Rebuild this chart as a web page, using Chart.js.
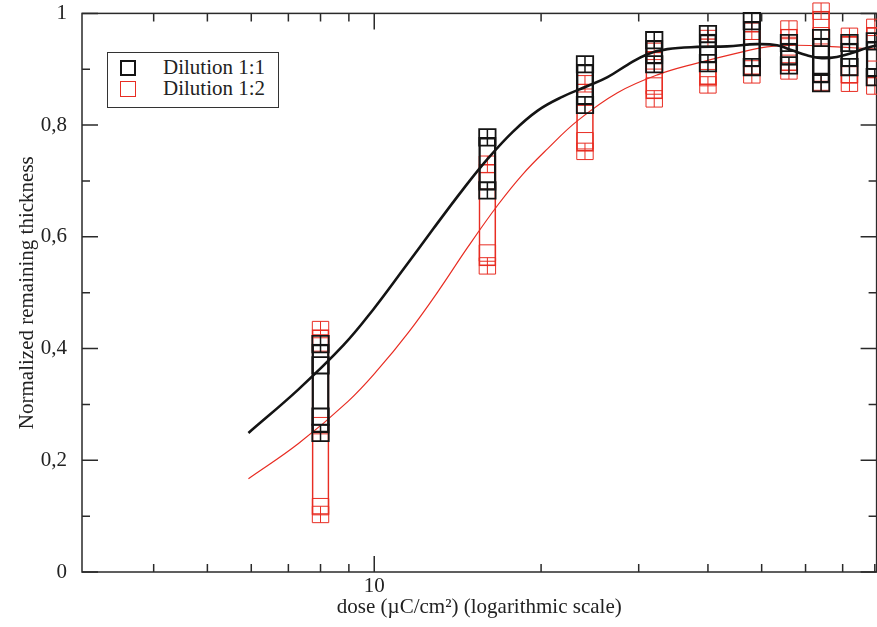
<!DOCTYPE html>
<html><head><meta charset="utf-8">
<script src="https://cdn.jsdelivr.net/npm/chart.js@4/dist/chart.umd.min.js"></script>
<style>
html,body{margin:0;padding:0;background:#fff;overflow:hidden;width:877px;height:627px;}
#wrap{position:relative;width:890px;height:627px;}
#legend{position:absolute;left:107px;top:52px;width:172px;height:56px;border:1.5px solid #333;box-sizing:border-box;background:#fff;font-family:'Liberation Serif','Times New Roman',serif;font-size:21px;color:#222;}
.item{position:absolute;left:0;width:100%;height:20px;}
.sw{position:absolute;left:12px;top:2px;width:16px;height:16px;box-sizing:border-box;}
.tx{position:absolute;left:55px;top:-3px;line-height:24px;white-space:nowrap;}
</style></head><body>
<div id="wrap"><canvas id="c" width="890" height="627"></canvas><div id="legend"></div></div>
<script>
// ---- data ----
const seriesNames = ['Dilution 1:1', 'Dilution 1:2'];
const doses = [8, 16, 24, 32, 40, 48, 56, 64, 72, 80];

// replicate measurements (square markers) per dose
const reps11 = [[0.408,0.370,0.278,0.249],[0.778,0.683],[0.909,0.836],[0.952,0.909],[0.963,0.911],
                [0.986,0.904],[0.947,0.907],[0.956,0.907,0.875],[0.947,0.904],[0.950,0.886]];
const reps12 = [[0.434,0.410,0.262,0.117,0.103],[0.730,0.700,0.571,0.548],[0.874,0.850,0.772,0.753],
                [0.932,0.915,0.870,0.847],[0.955,0.885,0.872],[0.968,0.930,0.890],[0.972,0.940,0.897],
                [1.004,0.960,0.877],[0.959,0.890,0.875],[0.975,0.900,0.870]];
// range of each replicate column
const low11  = [0.249,0.683,0.836,0.909,0.911,0.904,0.907,0.875,0.904,0.886];
const high11 = [0.408,0.778,0.909,0.952,0.963,0.986,0.947,0.956,0.947,0.950];
const low12  = [0.103,0.548,0.753,0.847,0.872,0.890,0.897,0.877,0.875,0.870];
const high12 = [0.434,0.730,0.874,0.932,0.955,0.968,0.972,1.004,0.959,0.975];

// fitted curves
const curveDose11 = [5.93,7.30,8.80,9.96,11.27,12.77,14.46,16.03,17.78,19.72,21.88,24.26,26.36,28.63,31.11,33.80,38.25,43.32,49.05,53.30,56.70,60.34,64.21,68.32,72.69,77.35,82.31];
const curve11     = [0.249,0.327,0.406,0.470,0.541,0.614,0.685,0.740,0.788,0.826,0.851,0.870,0.886,0.908,0.927,0.936,0.940,0.941,0.945,0.943,0.934,0.925,0.920,0.922,0.929,0.938,0.945];
const curveDose12 = [5.93,7.30,8.98,10.17,11.51,13.03,14.76,16.71,18.53,20.56,23.28,27.47,32.43,38.25,45.16,51.12,57.89,68.32,80.64];
const curve12     = [0.167,0.230,0.306,0.363,0.428,0.502,0.582,0.657,0.712,0.758,0.808,0.858,0.890,0.911,0.929,0.940,0.943,0.940,0.936];

// axis ticks
const xMajorTicks = [10];
const xMinorTicks = [4,5,6,7,8,9,20,30,40,50,60,70,80];
const yMajorTicks = [0,0.2,0.4,0.6,0.8,1];
const yMinorTicks = [0.1,0.3,0.5,0.7,0.9];
const xTitle = 'dose (\u00B5C/cm\u00B2) (logarithmic scale)';
const yTitle = 'Normalized remaining thickness';

// ---- build ----
const BLACK = '#141414', RED = 'rgb(232,45,35)';
const pts = (reps) => reps.flatMap((r, i) => r.map(v => ({x: doses[i], y: v})));
const edges = (lo, hi) => doses.flatMap((d, i) => [{x: d, y: lo[i]}, {x: d, y: hi[i]}]);
const ranges = (lo, hi) => doses.map((d, i) => ({x: d, y: [lo[i], hi[i]]}));
const FONT = "'Liberation Serif','Times New Roman',serif";

const framePlugin = {
  id: 'frame',
  beforeDatasetsDraw(chart) {
    const {ctx, chartArea: a, scales: {x, y}} = chart;
    ctx.save();
    ctx.strokeStyle = '#2a2a2a';
    ctx.lineWidth = 1.5;
    ctx.strokeRect(a.left, a.top, a.right - a.left, a.bottom - a.top);
    ctx.beginPath();
    const xt = (v, len) => { const p = x.getPixelForValue(v);
      ctx.moveTo(p, a.bottom); ctx.lineTo(p, a.bottom - len);
      ctx.moveTo(p, a.top); ctx.lineTo(p, a.top + len); };
    const yt = (v, len) => { const p = y.getPixelForValue(v);
      ctx.moveTo(a.left, p); ctx.lineTo(a.left + len, p);
      ctx.moveTo(a.right, p); ctx.lineTo(a.right - len, p); };
    xMajorTicks.forEach(v => xt(v, 16));
    xMinorTicks.forEach(v => xt(v, 8));
    yMajorTicks.forEach(v => yt(v, 16));
    yMinorTicks.forEach(v => yt(v, 8));
    ctx.stroke();
    ctx.restore();
  }
};

const ds = [];
// black series (drawn on top -> first)
ds.push({type:'line', label:'fit11', data: curveDose11.map((d,i)=>({x:d,y:curve11[i]})), borderColor: BLACK, borderWidth: 2.6, pointRadius: 0, tension: 0.4, fill:false});
ds.push({type:'scatter', label: seriesNames[0], data: pts(reps11), pointStyle:'rect', pointRadius: 11.6, borderColor: BLACK, backgroundColor:'rgba(0,0,0,0)', pointBorderWidth: 1.8, clip: false});
ds.push({type:'scatter', label:'v11', data: edges(low11, high11), pointStyle:'line', rotation: 90, pointRadius: 8.2, borderColor: BLACK, pointBorderWidth: 1.5, clip: false});
ds.push({type:'bar', label:'r11', data: ranges(low11, high11), grouped:false, barThickness: 17.5, borderSkipped:false, borderColor: BLACK, borderWidth: 1.8, backgroundColor:'rgba(0,0,0,0)', clip: false});
// red series
ds.push({type:'line', label:'fit12', data: curveDose12.map((d,i)=>({x:d,y:curve12[i]})), borderColor: RED, borderWidth: 1.2, pointRadius: 0, tension: 0.4, fill:false});
ds.push({type:'scatter', label: seriesNames[1], data: pts(reps12), pointStyle:'rect', pointRadius: 11.6, borderColor: RED, backgroundColor:'rgba(0,0,0,0)', pointBorderWidth: 1, clip: false});
ds.push({type:'scatter', label:'v12', data: edges(low12, high12), pointStyle:'line', rotation: 90, pointRadius: 8.2, borderColor: RED, pointBorderWidth: 1, clip: false});
ds.push({type:'bar', label:'r12', data: ranges(low12, high12), grouped:false, barThickness: 17, borderSkipped:false, borderColor: RED, borderWidth: 1, backgroundColor:'rgba(0,0,0,0)', clip: false});

const chart = new Chart(document.getElementById('c'), {
  type: 'scatter',
  data: { datasets: ds },
  options: {
    responsive: false, animation: false, events: [],
    layout: { padding: { left: 0, right: 11, top: 10, bottom: 0 } },
    plugins: { legend: { display: false }, tooltip: { enabled: false } },
    scales: {
      x: {
        type: 'logarithmic', min: 2.97, max: 80.6, offset: false,
        grid: { display: false, offset: false }, border: { display: false },
        afterBuildTicks: s => { s.ticks = xMajorTicks.map(v => ({value: v})); },
        afterFit: s => { s.height = 55; s.paddingLeft = 0; s.paddingRight = 0; },
        ticks: { autoSkip: false, maxRotation: 0, padding: -6, color: '#222', font: { family: FONT, size: 21 }, callback: v => String(v) },
        title: { display: true, text: xTitle, color: '#222', font: { family: FONT, size: 21 }, padding: { top: 0, bottom: 7 } }
      },
      y: {
        type: 'linear', min: 0, max: 1,
        grid: { display: false }, border: { display: false },
        afterBuildTicks: s => { s.ticks = yMajorTicks.map(v => ({value: v})); },
        afterFit: s => { s.width = 82; s.paddingTop = 0; s.paddingBottom = 0; },
        ticks: { padding: 7, color: '#222', font: { family: FONT, size: 21 }, callback: v => String(Number(v.toFixed(1))).replace('.', ',') },
        title: { display: true, text: yTitle, color: '#222', font: { family: FONT, size: 21 }, padding: { top: 15, bottom: 0 } }
      }
    }
  },
  plugins: [framePlugin]
});

// HTML legend built from the chart's own series
const legendEl = document.getElementById('legend');
[1, 5].forEach((idx, k) => {
  const d = chart.data.datasets[idx];
  const item = document.createElement('div');
  item.className = 'item';
  item.style.top = (5 + k * 21) + 'px';
  const sw = document.createElement('span');
  sw.className = 'sw';
  sw.style.border = (k === 0 ? 2 : 1.2) + 'px solid ' + d.borderColor;
  const tx = document.createElement('span');
  tx.className = 'tx';
  tx.textContent = d.label;
  item.appendChild(sw); item.appendChild(tx);
  legendEl.appendChild(item);
});
</script>
</body></html>
